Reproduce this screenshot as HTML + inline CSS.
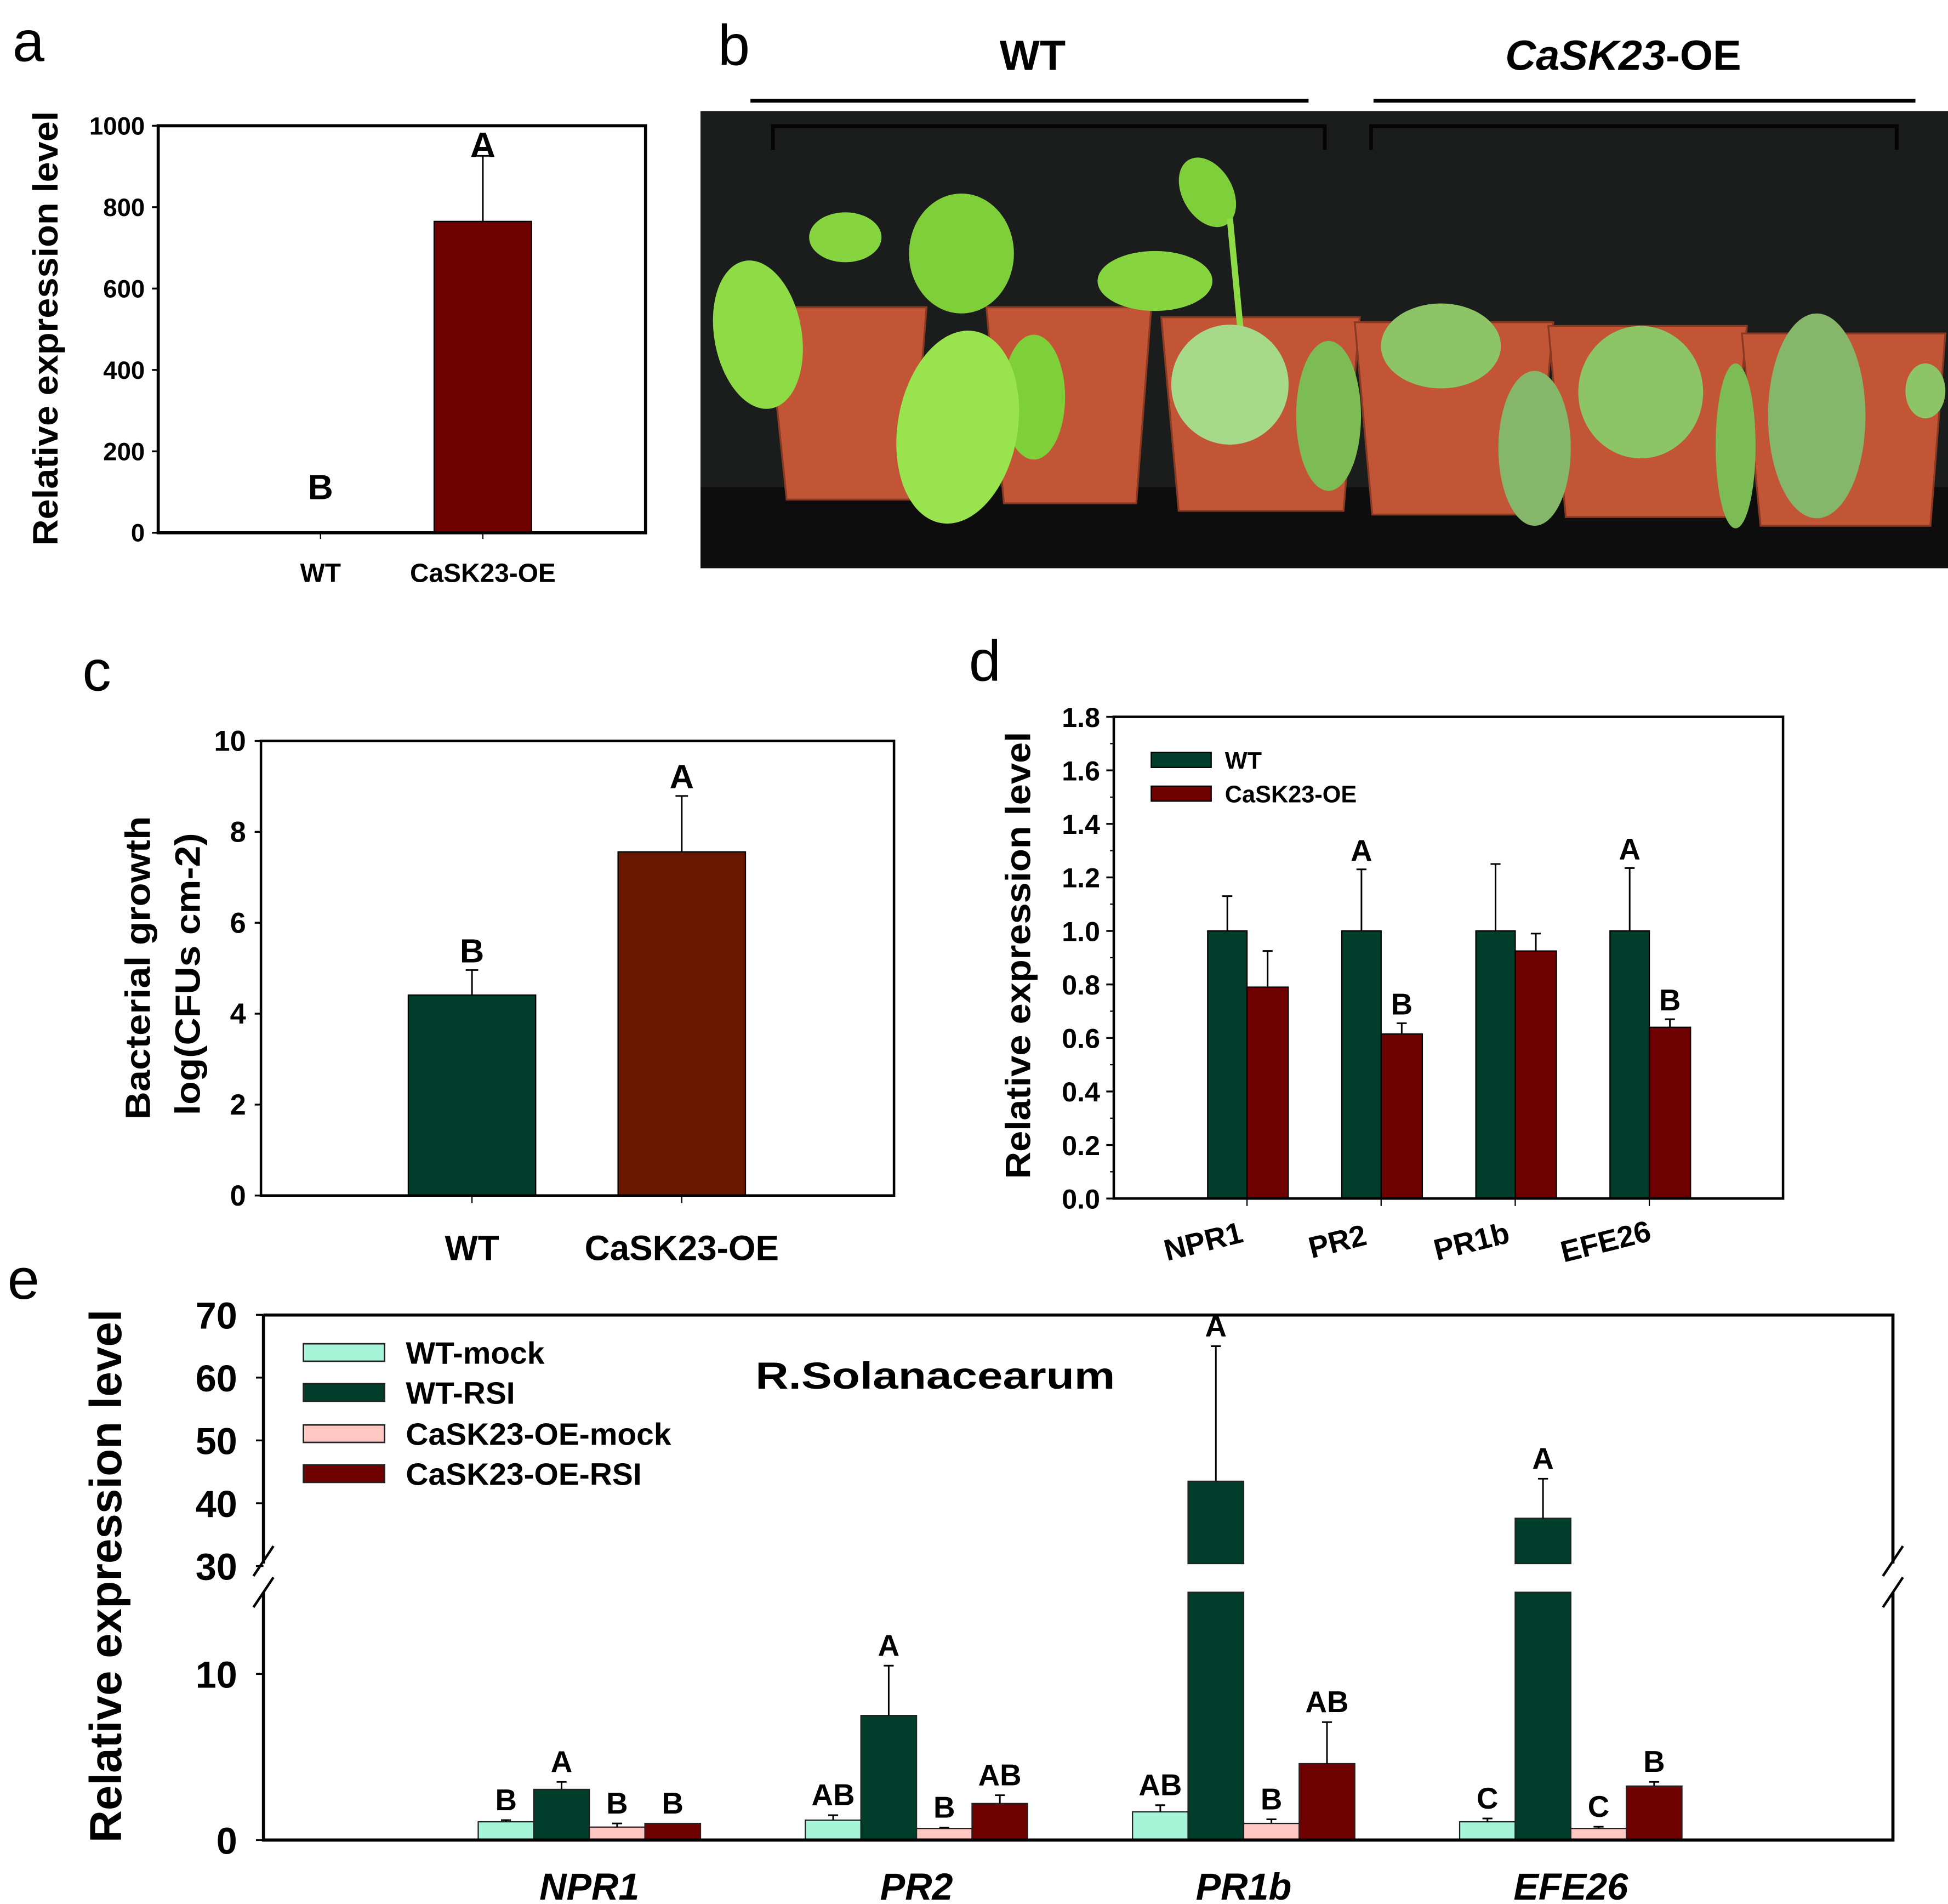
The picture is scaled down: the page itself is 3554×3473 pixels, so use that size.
<!DOCTYPE html>
<html><head><meta charset="utf-8"><style>
html,body{margin:0;padding:0;background:#fff;}
svg{display:block;}
text{font-family:"Liberation Sans",sans-serif;font-weight:bold;fill:#000;}
</style></head><body>
<svg id="fig" xmlns="http://www.w3.org/2000/svg" width="3554" height="3473" viewBox="0 0 1560.1 1524.6" preserveAspectRatio="none">
<rect x="0" y="0" width="1560.1" height="1524.6" fill="#fff"/>
<!-- panel letters -->
<text x="10" y="49" font-size="46" style="font-weight:normal">a</text>
<text x="575" y="52" font-size="46" style="font-weight:normal">b</text>
<text x="66" y="553" font-size="46" style="font-weight:normal">c</text>
<text x="776" y="545" font-size="46" style="font-weight:normal">d</text>
<text x="6" y="1040" font-size="46" style="font-weight:normal">e</text>

<!-- panel b photo -->
<g>
<text x="827" y="56" font-size="34" text-anchor="middle">WT</text>
<text x="1300" y="56" font-size="34" text-anchor="middle"><tspan font-style="italic">CaSK23</tspan>-OE</text>
<line x1="601" y1="80.7" x2="1048" y2="80.7" stroke="#000" stroke-width="3"/>
<line x1="1100" y1="80.7" x2="1534" y2="80.7" stroke="#000" stroke-width="3"/>
<rect x="561" y="89" width="999.1" height="366" fill="#1b1c1c"/>
<rect x="561" y="390" width="999.1" height="65" fill="#0d0d0d"/>
<path d="M619 120 V101 H1061 V120 M1098 120 V101 H1519 V120" fill="none" stroke="#050505" stroke-width="3"/>
<g fill="#c25536" stroke="#8a3a22" stroke-width="1.5">
<path d="M614 246 H742 L730 400 H630 Z"/>
<path d="M790 246 H922 L910 403 H804 Z"/>
<path d="M930 254 H1089 L1076 409 H944 Z"/>
<path d="M1085 258 H1244 L1230 412 H1099 Z"/>
<path d="M1240 261 H1399 L1385 414 H1254 Z"/>
<path d="M1395 267 H1558 L1546 421 H1410 Z"/>
</g>
<g fill="#8fdb45">
<ellipse cx="607" cy="268" rx="35" ry="60" transform="rotate(-10 607 268)"/>
<ellipse cx="677" cy="190" rx="29" ry="20" fill="#86d540"/>
<ellipse cx="770" cy="203" rx="42" ry="48" fill="#7fcf3a"/>
<ellipse cx="925" cy="225" rx="46" ry="24" fill="#86d540"/>
<ellipse cx="967" cy="154" rx="20" ry="30" transform="rotate(-30 967 154)" fill="#7fcf3a"/>
<line x1="985" y1="175" x2="995" y2="280" stroke="#8fdb45" stroke-width="5"/>
<ellipse cx="828" cy="318" rx="25" ry="50" fill="#7fcf3a"/>
<ellipse cx="767" cy="342" rx="48" ry="78" transform="rotate(10 767 342)" fill="#98e34e"/>
<ellipse cx="985" cy="308" rx="47" ry="48" fill="#a6d98a"/>
<ellipse cx="1064" cy="333" rx="26" ry="60" fill="#7dbb55"/>
<ellipse cx="1154" cy="277" rx="48" ry="34" fill="#8cc466"/>
<ellipse cx="1229" cy="359" rx="29" ry="62" fill="#86b66a"/>
<ellipse cx="1314" cy="314" rx="50" ry="53" fill="#8cc466"/>
<ellipse cx="1390" cy="357" rx="16" ry="66" fill="#7dbb55"/>
<ellipse cx="1455" cy="333" rx="39" ry="82" fill="#86b66a"/>
<ellipse cx="1542" cy="313" rx="16" ry="22" fill="#8cc466"/>
</g>
</g>

<g id="charts"></g>
</svg>
<script>
// ===== Panel a data =====
const aCats = ['WT', 'CaSK23-OE'];
const aVals = [0, 765];
const aErr = [0, 926];
const aLetters = ['B', 'A'];
const aTicks = [0, 200, 400, 600, 800, 1000];
// ===== Panel c data =====
const cCats = ['WT', 'CaSK23-OE'];
const cVals = [4.41, 7.56];
const cErr = [4.96, 8.79];
const cLetters = ['B', 'A'];
const cTicks = [0, 2, 4, 6, 8, 10];
// ===== Panel d data =====
const dCats = ['NPR1', 'PR2', 'PR1b', 'EFE26'];
const dWT = [1.0, 1.0, 1.0, 1.0];
const dWTErr = [1.13, 1.23, 1.25, 1.235];
const dOE = [0.79, 0.615, 0.925, 0.64];
const dOEErr = [0.925, 0.655, 0.99, 0.67];
const dWTLetters = ['', 'A', '', 'A'];
const dOELetters = ['', 'B', '', 'B'];
const dTicks = ['0.0', '0.2', '0.4', '0.6', '0.8', '1.0', '1.2', '1.4', '1.6', '1.8'];
// ===== Panel e data =====
const eCats = ['NPR1', 'PR2', 'PR1b', 'EFE26'];
const eSeries = ['WT-mock', 'WT-RSI', 'CaSK23-OE-mock', 'CaSK23-OE-RSI'];
const eWTmock = [1.1, 1.2, 1.7, 1.1];
const eWTmockErr = [1.2, 1.5, 2.1, 1.3];
const eWTrsi = [3.05, 7.5, 43.5, 37.6];
const eWTrsiErr = [3.5, 10.5, 65, 43.9];
const eOEmock = [0.78, 0.7, 1.0, 0.7];
const eOEmockErr = [1.0, 0.75, 1.25, 0.8];
const eOErsi = [1.0, 2.2, 4.6, 3.25];
const eOErsiErr = [1.0, 2.7, 7.1, 3.5];
const eLetters = [['B','A','B','B'], ['AB','A','B','AB'], ['AB','A','B','AB'], ['C','A','C','B']];
const eTicksLow = [0, 10];
const eTicksHigh = [30, 40, 50, 60, 70];

const NS = 'http://www.w3.org/2000/svg';
const root = document.getElementById('charts');
function mk(tag, attrs, parent) {
  const e = document.createElementNS(NS, tag);
  for (const k in attrs) e.setAttribute(k, attrs[k]);
  (parent || root).appendChild(e);
  return e;
}
function txt(str, attrs, parent) { const t = mk('text', attrs, parent); t.textContent = str; return t; }
function errBar(g, x, y1, y2, cap) {
  const l = mk('path', {d: `M${x} ${y1} V${y2} M${x-cap} ${y2} H${x+cap}`, stroke: '#000', 'stroke-width': 1.3, fill: 'none'}, g);
  
  
}

// ---------- Panel a ----------
(function(){
  const g = mk('g', {});
  
  
  const L = 126.7, R = 517, T = 100.7, B = 426.6;
  const ya = v => B - (v - 0) / 1000 * (B - T);
  const xa = i => L + 130 * (i + 1);
  aCats.forEach((c, i) => {
    if (aVals[i] > 0) {
      const r = mk('rect', {x: xa(i) - 39, y: ya(aVals[i]), width: 78, height: ya(0) - ya(aVals[i]), fill: '#6e0000', stroke: '#000', 'stroke-width': 1}, g);
      
      
      errBar(g, xa(i), ya(aVals[i]), ya(aErr[i]), 8);
    }
    const lt = txt(aLetters[i], {x: xa(i), y: Math.min(ya(aErr[i]) + 1, ya(0) - 27), 'font-size': 28, 'text-anchor': 'middle'}, g);
    
    
    const cl = txt(c, {x: xa(i), y: 466, 'font-size': 21, 'text-anchor': 'middle'}, g);
    
    
    mk('line', {x1: xa(i), y1: B, x2: xa(i), y2: B + 5, stroke: '#000', 'stroke-width': 1}, g);
  });
  aTicks.forEach(t => {
    mk('line', {x1: L - 5, y1: ya(t), x2: L, y2: ya(t), stroke: '#000', 'stroke-width': 1.5}, g);
    const tl = txt(String(t), {x: 116, y: ya(t) + 7, 'font-size': 20, 'text-anchor': 'end'}, g);
    
    
  });
  const box = mk('rect', {x: L, y: T, width: R - L, height: B - T, fill: 'none', stroke: '#000', 'stroke-width': 2.5}, g);
  
  
  const yt = txt('Relative expression level', {x: 0, y: 0, 'font-size': 28, 'text-anchor': 'middle', textLength: 348, lengthAdjust: 'spacingAndGlyphs', transform: 'translate(46 263) rotate(-90)'}, g);
  
  
})();

// ---------- Panel c ----------
(function(){
  const g = mk('g', {});
  
  
  const L = 209, R = 716, T = 593.3, B = 957.3;
  const yc = v => B - v / 10 * (B - T);
  const xc = i => [378, 546][i];
  const cols = ['#013d2b', '#6b1800'];
  cCats.forEach((c, i) => {
    const r = mk('rect', {x: xc(i) - 51, y: yc(cVals[i]), width: 102, height: yc(0) - yc(cVals[i]), fill: cols[i], stroke: '#000', 'stroke-width': 1}, g);
    
    
    errBar(g, xc(i), yc(cVals[i]), yc(cErr[i]), 5);
    const lt = txt(cLetters[i], {x: xc(i), y: yc(cErr[i]) - 6, 'font-size': 27, 'text-anchor': 'middle'}, g);
    
    
    const cl = txt(c, {x: xc(i), y: 1009, 'font-size': 28, 'text-anchor': 'middle'}, g);
    
    
    mk('line', {x1: xc(i), y1: B, x2: xc(i), y2: B + 6, stroke: '#000', 'stroke-width': 1}, g);
  });
  cTicks.forEach(t => {
    mk('line', {x1: L - 5, y1: yc(t), x2: L, y2: yc(t), stroke: '#000', 'stroke-width': 1.5}, g);
    const tl = txt(String(t), {x: 197, y: yc(t) + 8, 'font-size': 23, 'text-anchor': 'end'}, g);
    
    
  });
  const box = mk('rect', {x: L, y: T, width: R - L, height: B - T, fill: 'none', stroke: '#000', 'stroke-width': 2}, g);
  
  
  const y1 = txt('Bacterial growth', {x: 0, y: 0, 'font-size': 28, 'text-anchor': 'middle', textLength: 243, lengthAdjust: 'spacingAndGlyphs', transform: 'translate(120 775) rotate(-90)'}, g);
  
  
  const y2 = txt('log(CFUs cm-2)', {x: 0, y: 0, 'font-size': 28, 'text-anchor': 'middle', textLength: 226, lengthAdjust: 'spacingAndGlyphs', transform: 'translate(160 780) rotate(-90)'}, g);
  
  
})();

// ---------- Panel d ----------
(function(){
  const g = mk('g', {});
  
  
  const L = 892, R = 1428, T = 574, B = 959.7;
  const yd = v => B - v / 1.8 * (B - T);
  const xd = i => 998.7 + i * 107.4;
  dCats.forEach((c, i) => {
    const w = mk('rect', {x: xd(i) - 31.5, y: yd(dWT[i]), width: 31.5, height: yd(0) - yd(dWT[i]), fill: '#013d2b', stroke: '#000', 'stroke-width': 1}, g);
    
    
    const o = mk('rect', {x: xd(i), y: yd(dOE[i]), width: 33, height: yd(0) - yd(dOE[i]), fill: '#6e0000', stroke: '#000', 'stroke-width': 1}, g);
    
    
    errBar(g, xd(i) - 15.75, yd(dWT[i]), yd(dWTErr[i]), 4);
    errBar(g, xd(i) + 16.5, yd(dOE[i]), yd(dOEErr[i]), 4);
    if (dWTLetters[i]) {
      const a = txt(dWTLetters[i], {x: xd(i) - 15.75, y: yd(dWTErr[i]) - 7, 'font-size': 24, 'text-anchor': 'middle'}, g);
      
      
    }
    if (dOELetters[i]) {
      const b = txt(dOELetters[i], {x: xd(i) + 16.5, y: yd(dOEErr[i]) - 7, 'font-size': 24, 'text-anchor': 'middle'}, g);
      
      
    }
    mk('line', {x1: xd(i), y1: B, x2: xd(i), y2: B + 6, stroke: '#000', 'stroke-width': 1}, g);
    const cl = txt(c, {x: 0, y: 0, 'font-size': 24, 'text-anchor': 'middle', transform: `translate(${xd(i) - 33} 1002) rotate(-14)`}, g);
    
    
  });
  dTicks.forEach((t, k) => {
    const v = parseFloat(t);
    mk('line', {x1: L - 6, y1: yd(v), x2: L, y2: yd(v), stroke: '#000', 'stroke-width': 1.5}, g);
    if (k < dTicks.length - 1) mk('line', {x1: L - 3, y1: yd(v + 0.1), x2: L, y2: yd(v + 0.1), stroke: '#000', 'stroke-width': 1}, g);
    const tl = txt(t, {x: 881, y: yd(v) + 8, 'font-size': 22, 'text-anchor': 'end'}, g);
    
    
  });
  const box = mk('rect', {x: L, y: T, width: R - L, height: B - T, fill: 'none', stroke: '#000', 'stroke-width': 2}, g);
  
  
  const yt = txt('Relative expression level', {x: 0, y: 0, 'font-size': 28, 'text-anchor': 'middle', textLength: 358, lengthAdjust: 'spacingAndGlyphs', transform: 'translate(825 765) rotate(-90)'}, g);
  
  
  const lg = mk('g', {}, g);
  
  
  [['WT', '#013d2b', 608.5], ['CaSK23-OE', '#6e0000', 635.5]].forEach(([n, col, y]) => {
    const s = mk('rect', {x: 922, y: y - 6, width: 48, height: 12, fill: col, stroke: '#000', 'stroke-width': 1}, lg);
    
    
    const t = txt(n, {x: 981, y: y + 7, 'font-size': 19}, lg);
    
    
  });
})();

// ---------- Panel e ----------
(function(){
  const g = mk('g', {});
  
  
  const L = 211, R = 1516, T = 1053, B = 1473.4;
  const LOWTOP = 14.9, UPB = 1252, LOWB = 1275;
  const ye = v => v <= LOWTOP ? B - v * 13.3 : 1254 - (v - 30) * 5.03;
  const bw = 44.5;
  const xe = (i, s) => 383 + i * 262 + s * bw;
  const cols = ['#a6f4d8', '#013d2b', '#ffc6c2', '#6e0000'];
  const sets = [[eWTmock, eWTmockErr], [eWTrsi, eWTrsiErr], [eOEmock, eOEmockErr], [eOErsi, eOErsiErr]];
  eCats.forEach((c, i) => {
    sets.forEach(([vals, errs], s) => {
      const v = vals[i], x = xe(i, s);
      if (v <= LOWTOP) {
        const r = mk('rect', {x: x, y: ye(v), width: bw, height: B - ye(v), fill: cols[s], stroke: '#222', 'stroke-width': 1}, g);
        
        
      } else {
        const r1 = mk('rect', {x: x, y: LOWB, width: bw, height: B - LOWB, fill: cols[s], stroke: '#222', 'stroke-width': 1}, g);
        
        
        const r2 = mk('rect', {x: x, y: ye(v), width: bw, height: UPB - ye(v), fill: cols[s], stroke: '#222', 'stroke-width': 1}, g);
        
        
      }
      if (errs[i] > v + 0.01) errBar(g, x + bw / 2, ye(v), ye(errs[i]), 4);
      const lt = txt(eLetters[i][s], {x: x + bw / 2, y: ye(Math.max(errs[i], v)) - 8, 'font-size': 24, 'text-anchor': 'middle'}, g);
      
      
    });
    const cl = txt(c, {x: xe(i, 2), y: 1521, 'font-size': 30, 'font-style': 'italic', 'text-anchor': 'middle'}, g);
    
    
  });
  const ax = mk('path', {d: `M${L} ${T} H${R} V${UPB} M${R} ${LOWB} V${B} H${L} V${LOWB} M${L} ${UPB} V${T}`, fill: 'none', stroke: '#000', 'stroke-width': 2.5}, g);
  
  
  [L, R].forEach(x => {
    const br = mk('path', {d: `M${x-8} ${UPB+10} L${x+8} ${UPB-14} M${x-8} ${LOWB+12} L${x+8} ${LOWB-12}`, stroke: '#000', 'stroke-width': 2, fill: 'none'}, g);
    
    
  });
  eTicksLow.concat(eTicksHigh).forEach(t => {
    mk('line', {x1: L - 6, y1: ye(t), x2: L, y2: ye(t), stroke: '#000', 'stroke-width': 1.5}, g);
    const tl = txt(String(t), {x: 190, y: ye(t) + 11, 'font-size': 30, 'text-anchor': 'end'}, g);
    
    
  });
  const yt = txt('Relative expression level', {x: 0, y: 0, 'font-size': 36, 'text-anchor': 'middle', textLength: 427, lengthAdjust: 'spacingAndGlyphs', transform: 'translate(97 1262) rotate(-90)'}, g);
  
  
  const ti = txt('R.Solanacearum', {x: 605, y: 1112, 'font-size': 30, textLength: 288, lengthAdjust: 'spacingAndGlyphs'}, g);
  
  
  const lg = mk('g', {}, g);
  
  
  const ly = [1083, 1115, 1148, 1180];
  eSeries.forEach((n, s) => {
    const sw = mk('rect', {x: 243, y: ly[s] - 7, width: 65, height: 14, fill: cols[s], stroke: '#222', 'stroke-width': 1.2}, lg);
    
    
    const t = txt(n, {x: 325, y: ly[s] + 9, 'font-size': 25}, lg);
    
    
  });
})();
</script>
</body></html>
